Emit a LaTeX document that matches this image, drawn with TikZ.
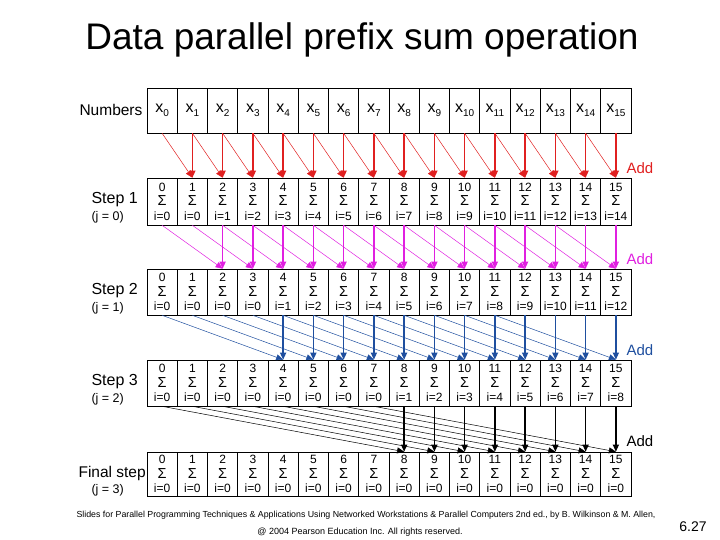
\documentclass[tikz,border=0pt]{standalone}
\usepackage{fontspec}
\setmainfont{Liberation Sans}
\usetikzlibrary{arrows.meta}
\definecolor{cred}{HTML}{E02020}
\definecolor{cmag}{HTML}{E020E0}
\definecolor{cblue}{HTML}{1F4F9F}
\definecolor{cblack}{HTML}{000000}
\begin{document}
\begin{tikzpicture}[x=1pt,y=-1pt,
  cell/.style={draw, line width=0.6pt, minimum width=30.25pt, inner sep=0pt, align=center, font=\fontsize{12}{14.5}\selectfont},
  vert/.style={-{Triangle[length=7pt,width=6pt]}, line width=1.3pt},
  diag/.style={-{Triangle[length=7pt,width=6pt]}, line width=0.5pt},
  rowlab/.style={anchor=west, font=\fontsize{16}{16}\selectfont},
  sublab/.style={anchor=west, font=\fontsize{12.5}{12.5}\selectfont},
  addlab/.style={anchor=west, font=\fontsize{15}{15}\selectfont}]
\useasboundingbox (0,0) rectangle (720,540);
\node[font=\fontsize{37}{37}\selectfont] (title) at (362,40) {Data parallel prefix sum operation};
% numbers row
\foreach \i in {0,...,15}{
  \node[cell, minimum height=45pt, font=\fontsize{16}{16}\selectfont] (r0c\i) at ({147+30.25*(\i+0.5)},110.5)
    {x\raisebox{-4pt}{\fontsize{10}{10}\selectfont\i}};
}
% step rows
\foreach \r/\yc/\h/\sub in {1/201.5/47/1,2/292/46/3,3/383/46/7,4/474/44/100}{
  \foreach \i in {0,...,15}{
    \pgfmathtruncatemacro{\jv}{max(0,\i-\sub)}
    \node[cell, minimum height=\h pt] (r\r c\i) at ({147+30.25*(\i+0.5)},\yc)
      {\i\\{\fontsize{14.5}{14.5}\selectfont Σ}\\i=\jv};
  }
}
\node[rowlab, font=\fontsize{15.5}{16}\selectfont] (lnum) at (76,110) {Numbers};
\node[rowlab] (l1) at (88,200) {Step 1};
\node[sublab] (l1s) at (88,217) {(j = 0)};
\node[rowlab] (l2) at (88,291) {Step 2};
\node[sublab] (l2s) at (88,308) {(j = 1)};
\node[rowlab] (l3) at (88,382) {Step 3};
\node[sublab] (l3s) at (88,399) {(j = 2)};
\node[rowlab, font=\fontsize{15.5}{16}\selectfont] (l4) at (75,473) {Final step};
\node[sublab] (l4s) at (88,490) {(j = 3)};
% arrows
\foreach \t/\d/\c in {1/1/cred,2/2/cmag,3/4/cblue,4/8/cblack}{
  \pgfmathtruncatemacro{\p}{\t-1}
  \foreach \i in {\d,...,15}{
    \pgfmathtruncatemacro{\s}{\i-\d}
    \draw[diag,\c] (r\p c\s.south) -- (r\t c\i.north);
    \draw[vert,\c] (r\p c\i.south) -- (r\t c\i.north);
  }
}
\node[addlab,text=cred] (a1) at (623,168) {Add};
\node[addlab,text=cmag] (a2) at (623,259) {Add};
\node[addlab,text=cblue] (a3) at (623,350) {Add};
\node[addlab,text=cblack] (a4) at (623,441) {Add};
\node[anchor=west, font=\fontsize{8.8}{9}\selectfont] (f1) at (73,515) {Slides for Parallel Programming Techniques \& Applications Using Networked Workstations \& Parallel Computers 2nd ed., by B. Wilkinson \& M. Allen,};
\node[font=\fontsize{9}{9}\selectfont] (f2) at (360,532) {@ 2004 Pearson Education Inc. All rights reserved.};
\node[font=\fontsize{14}{14}\selectfont] (pg) at (693,527) {6.27};
\end{tikzpicture}
\end{document}
